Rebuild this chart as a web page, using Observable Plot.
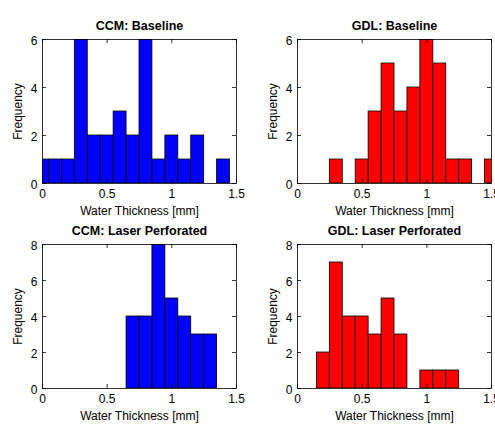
<!DOCTYPE html>
<html><head><meta charset="utf-8">
<script src="https://cdn.jsdelivr.net/npm/d3@7"></script>
<script src="https://cdn.jsdelivr.net/npm/@observablehq/plot@0.6"></script>
<style>
html,body{margin:0;padding:0;background:#fff;overflow:hidden;width:495px;height:425px;}
#wrap{position:relative;width:495px;height:425px;overflow:hidden;}
.panel{position:absolute;}
.panel svg{overflow:visible;}
</style></head><body><div id="wrap"></div>
<script>
// Histogram bin centres (mm), bin width 0.1
const binCenters = [0, 0.1, 0.2, 0.3, 0.4, 0.5, 0.6, 0.7, 0.8, 0.9, 1.0, 1.1, 1.2, 1.3, 1.4, 1.5];
const ccmBaseline = [1, 1, 1, 6, 2, 2, 3, 2, 6, 1, 2, 1, 2, 0, 1, 0];
const gdlBaseline = [0, 0, 0, 1, 0, 1, 3, 5, 3, 4, 6, 5, 1, 1, 0, 1];
const ccmLaser    = [0, 0, 0, 0, 0, 0, 0, 4, 4, 8, 5, 4, 3, 3, 0, 0];
const gdlLaser    = [0, 0, 2, 7, 4, 4, 3, 5, 3, 0, 1, 1, 1, 0, 0, 0];
const binWidth = 0.1;
const xTicks = [0, 0.5, 1, 1.5];
const yTicksTop = [0, 2, 4, 6];
const yTicksBottom = [0, 2, 4, 6, 8];
const titles = ["CCM: Baseline", "GDL: Baseline", "CCM: Laser Perforated", "GDL: Laser Perforated"];
const xLabel = "Water Thickness [mm]";
const yLabel = "Frequency";

const FONT = "'Liberation Sans', Arial, Helvetica, sans-serif";

function panel({counts, color, title, yMax, yTicks, left, top, width, height, mL, mR, mT, mB}) {
  const data = binCenters.map((c, i) => ({c, n: counts[i]}));
  const pw = width - mL - mR, ph = height - mT - mB, tl = 4;
  const chart = Plot.plot({
    width, height, marginLeft: mL, marginRight: mR, marginTop: mT, marginBottom: mB,
    style: {fontFamily: FONT, fontSize: "11px", color: "#000", background: "transparent"},
    x: {domain: [0, 1.5]},
    y: {domain: [0, yMax]},
    marks: [
      Plot.rectY(data, {x1: d => d.c - binWidth / 2, x2: d => d.c + binWidth / 2, y: "n",
        fill: color, stroke: "#000", strokeWidth: 0.8, clip: true}),
      Plot.frame({stroke: "#000", strokeWidth: 0.8}),
      Plot.tickX(xTicks, {x: d => d, insetTop: ph - tl, stroke: "#000", strokeWidth: 0.8}),
      Plot.tickX(xTicks, {x: d => d, insetBottom: ph - tl, stroke: "#000", strokeWidth: 0.8}),
      Plot.tickY(yTicks, {y: d => d, insetRight: pw - tl, stroke: "#000", strokeWidth: 0.8}),
      Plot.tickY(yTicks, {y: d => d, insetLeft: pw - tl, stroke: "#000", strokeWidth: 0.8}),
      Plot.axisX(xTicks, {tickSize: 0, tickPadding: 6, tickFormat: d => String(d), fontSize: 12,
        label: xLabel, labelAnchor: "center", labelOffset: 31, labelArrow: "none"}),
      Plot.axisY(yTicks, {tickSize: 0, tickPadding: 5, dy: 2, tickFormat: d => String(d), fontSize: 12,
        label: yLabel, labelAnchor: "center", labelOffset: 29, labelArrow: "none"}),
      Plot.text([title], {text: d => d, frameAnchor: "top", lineAnchor: "bottom", dy: -10,
        fontWeight: "bold", fontSize: 12.5})
    ]
  });
  const div = document.createElement("div");
  div.className = "panel";
  div.style.left = left + "px";
  div.style.top = top + "px";
  div.appendChild(chart);
  document.getElementById("wrap").appendChild(div);
}

panel({counts: ccmBaseline, color: "#0000ff", title: titles[0], yMax: 6, yTicks: yTicksTop,
  left: 0, top: 0, width: 247, height: 212, mL: 42, mR: 11, mT: 39, mB: 29});
panel({counts: gdlBaseline, color: "#ff0000", title: titles[1], yMax: 6, yTicks: yTicksTop,
  left: 247, top: 0, width: 248, height: 212, mL: 50, mR: 4, mT: 39, mB: 29});
panel({counts: ccmLaser, color: "#0000ff", title: titles[2], yMax: 8, yTicks: yTicksBottom,
  left: 0, top: 212, width: 247, height: 213, mL: 42, mR: 11, mT: 32, mB: 37});
panel({counts: gdlLaser, color: "#ff0000", title: titles[3], yMax: 8, yTicks: yTicksBottom,
  left: 247, top: 212, width: 248, height: 213, mL: 50, mR: 4, mT: 32, mB: 37});
</script>
</body></html>
